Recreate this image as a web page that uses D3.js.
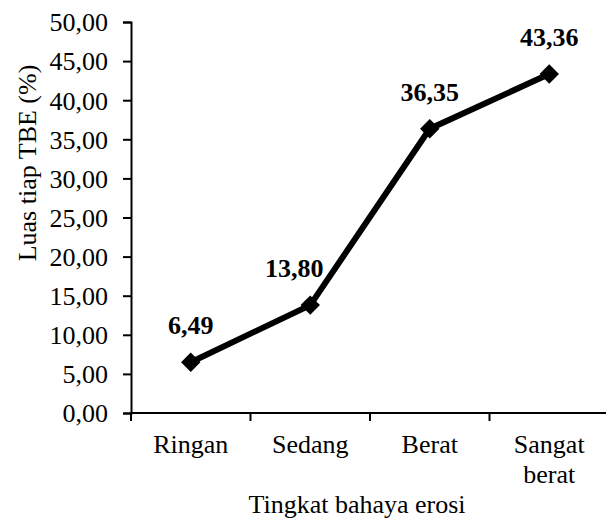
<!DOCTYPE html>
<html>
<head>
<meta charset="utf-8">
<script src="https://cdn.jsdelivr.net/npm/d3@7"></script>
<style>
    body { margin: 0; background: #fff; }
    text { font-family: "Liberation Serif", "Times New Roman", serif; fill: #000; }
</style>
</head>
<body>
<div id="chart"></div>
<script>
// data
var categories = ["Ringan", "Sedang", "Berat", "Sangat berat"];
var values = [6.49, 13.80, 36.35, 43.36];
var yTicks = [0, 5, 10, 15, 20, 25, 30, 35, 40, 45, 50];
var xTitle = "Tingkat bahaya erosi";
var yTitle = "Luas tiap TBE (%)";

// manual nudge of the data labels (Excel moved the 2nd one)
var labelDx = [0, -16, 0, 0];

var margin = { top: 22, right: -3, bottom: 108, left: 131 },
    width = 606 - margin.left - margin.right,
    height = 521 - margin.top - margin.bottom;

var fontSize = "26px";
var fmt = function (v) { return v.toFixed(2).replace(".", ","); };

var x = d3.scaleBand().domain(categories).range([0, width]);
var y = d3.scaleLinear().domain([0, 50]).range([height, 0]);

var svg = d3.select("#chart").append("svg")
    .attr("width", 606)
    .attr("height", 521)
    .append("g")
    .attr("transform", "translate(" + margin.left + "," + margin.top + ")");

// Y axis
var yAxis = svg.append("g")
    .call(d3.axisLeft(y).tickValues(yTicks).tickFormat(fmt).tickSize(8).tickPadding(15));
yAxis.attr("font-family", null).attr("font-size", null);
yAxis.selectAll("text").style("font-size", fontSize).attr("dy", "0.34em");
yAxis.select(".domain").attr("stroke-width", 2);
yAxis.selectAll(".tick line").attr("stroke-width", 2);

// X axis, ticks at band edges
var xAxis = svg.append("g")
    .attr("transform", "translate(0," + height + ")");
xAxis.append("line")
    .attr("x1", -1).attr("x2", width + 5)
    .attr("stroke", "#000").attr("stroke-width", 2);
xAxis.selectAll(".edge")
    .data(categories)
    .enter().append("line")
    .attr("class", "edge")
    .attr("x1", function (d) { return x(d); })
    .attr("x2", function (d) { return x(d); })
    .attr("y1", 0).attr("y2", 8)
    .attr("stroke", "#000").attr("stroke-width", 2);

xAxis.selectAll(".cat")
    .data(categories)
    .enter().append("text")
    .attr("class", "cat")
    .attr("text-anchor", "middle")
    .style("font-size", fontSize)
    .attr("x", function (d) { return x(d) + x.bandwidth() / 2; })
    .attr("y", 40)
    .each(function (d) {
        var words = d.split(" ");
        var t = d3.select(this);
        words.forEach(function (w, i) {
            t.append("tspan")
                .attr("x", x(d) + x.bandwidth() / 2)
                .attr("dy", i === 0 ? 0 : 30)
                .text(w);
        });
    });

// axis titles
svg.append("text")
    .attr("x", 226)
    .attr("y", height + 100)
    .attr("text-anchor", "middle")
    .style("font-size", fontSize)
    .text(xTitle);

svg.append("text")
    .attr("transform", "translate(" + (-95) + "," + 141 + ") rotate(-90)")
    .attr("text-anchor", "middle")
    .style("font-size", fontSize)
    .text(yTitle);

// line
var cx = function (d, i) { return x(categories[i]) + x.bandwidth() / 2; };
var line = d3.line()
    .x(function (d, i) { return cx(d, i); })
    .y(function (d) { return y(d); });

svg.append("path")
    .datum(values)
    .attr("fill", "none")
    .attr("stroke", "#000")
    .attr("stroke-width", 6)
    .attr("d", line);

// diamond markers
svg.selectAll(".pt")
    .data(values)
    .enter().append("path")
    .attr("class", "pt")
    .attr("d", d3.symbol().type(d3.symbolDiamond2).size(240))
    .attr("transform", function (d, i) { return "translate(" + cx(d, i) + "," + y(d) + ")"; })
    .attr("fill", "#000");

// data labels
svg.selectAll(".lbl")
    .data(values)
    .enter().append("text")
    .attr("class", "lbl")
    .attr("text-anchor", "middle")
    .style("font-size", fontSize)
    .style("font-weight", "bold")
    .attr("x", function (d, i) { return cx(d, i) + labelDx[i]; })
    .attr("y", function (d) { return y(d) - 28; })
    .text(fmt);
</script>
</body>
</html>
